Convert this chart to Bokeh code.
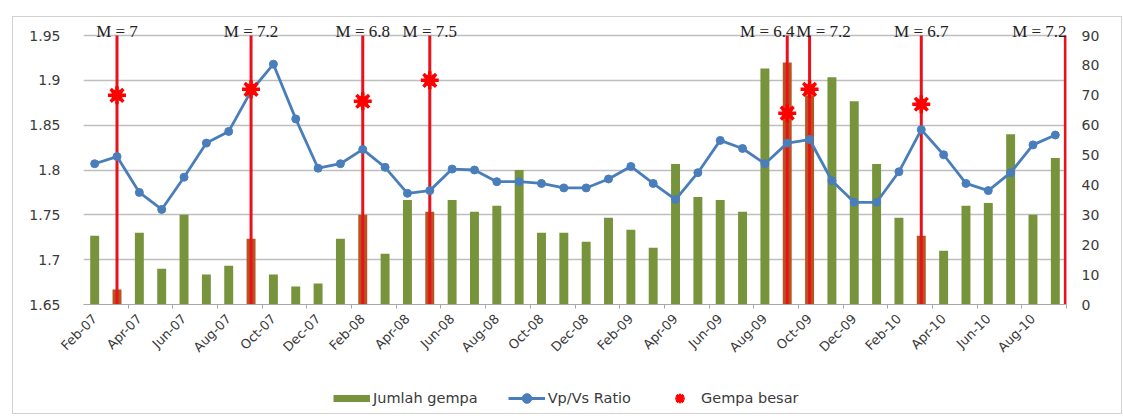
import math
from bokeh.plotting import figure
from bokeh.layouts import column
from bokeh.models import (Range1d, LinearAxis, FixedTicker, ColumnDataSource,
                          Legend, LegendItem, NumeralTickFormatter)
from bokeh.core.properties import value
from bokeh.embed import file_html
from bokeh.resources import INLINE

months = ["Feb-07", "Mar-07", "Apr-07", "May-07", "Jun-07", "Jul-07", "Aug-07", "Sep-07", "Oct-07", "Nov-07", "Dec-07",
          "Jan-08", "Feb-08", "Mar-08", "Apr-08", "May-08", "Jun-08", "Jul-08", "Aug-08", "Sep-08", "Oct-08", "Nov-08", "Dec-08",
          "Jan-09", "Feb-09", "Mar-09", "Apr-09", "May-09", "Jun-09", "Jul-09", "Aug-09", "Sep-09", "Oct-09", "Nov-09", "Dec-09",
          "Jan-10", "Feb-10", "Mar-10", "Apr-10", "May-10", "Jun-10", "Jul-10", "Aug-10", "Sep-10"]

vpvs = [1.807, 1.815, 1.775, 1.756, 1.792, 1.830, 1.843, 1.888, 1.918, 1.857, 1.802,
        1.807, 1.823, 1.803, 1.774, 1.777, 1.801, 1.800, 1.787, 1.787, 1.785, 1.780, 1.780,
        1.790, 1.804, 1.785, 1.767, 1.797, 1.833, 1.824, 1.807, 1.830, 1.834, 1.788, 1.764,
        1.764, 1.798, 1.845, 1.817, 1.785, 1.777, 1.797, 1.828, 1.839]

gempa = [23, 5, 24, 12, 30, 10, 13, 22, 10, 6, 7,
         22, 30, 17, 35, 31, 35, 31, 33, 45, 24, 24, 21,
         29, 25, 19, 47, 36, 35, 31, 79, 81, 70, 76, 68,
         47, 29, 23, 18, 33, 34, 57, 30, 49]

# large earthquakes (position in month index; last one sits at the right edge)
event_pos = [1, 7, 12, 15, 31, 32, 37, 43.45]
event_mag = ["M = 7", "M = 7.2", "M = 6.8", "M = 7.5", "M = 6.4", "M = 7.2", "M = 6.7", "M = 7.2"]
event_star = [70, 72, 68, 75, 64, 72, 67, float("nan")]

# ---- layout / style ----
label_shift = [0, 0, 0, 0, -20, 14, 0, -26]
GREEN = "#77933C"
ORANGE = "#B8541F"
BLUE = "#4A7EBB"
RED = "#E8121B"
TXT = "#3A3A3A"
FONT = "DejaVu Sans"

W = 1108
H_MAIN, H_LEG = 366, 30
FRAME_L, FRAME_R, FRAME_T, FRAME_B = 70, 55, 0, 79
TOP_BAND = 18                   # pixels above the 1.95 line, inside the frame
frame_h = H_MAIN - FRAME_T - FRAME_B
axis_px = frame_h - TOP_BAND     # pixels between 1.65 and 1.95
y_lo, y_hi = 1.65, 1.95
y_top = y_lo + (y_hi - y_lo) * frame_h / axis_px
n_top = 90 * frame_h / axis_px

x = list(range(len(months)))
event_idx = {int(e) for e in event_pos if float(e).is_integer()}
bar_colors = [ORANGE if i in event_idx else GREEN for i in x]

src = ColumnDataSource(dict(x=x, vpvs=vpvs, gempa=gempa, color=bar_colors))
ev = ColumnDataSource(dict(x=event_pos, mag=event_mag, star=event_star, shift=label_shift))

p = figure(width=W, height=H_MAIN, x_range=Range1d(-0.5, len(months) - 0.5),
           y_range=Range1d(y_lo, y_top), output_backend="svg", toolbar_location=None,
           min_border_left=FRAME_L, min_border_right=FRAME_R, min_border_top=FRAME_T,
           min_border_bottom=FRAME_B)
p.extra_y_ranges = {"n": Range1d(0, n_top)}
p.outline_line_color = None
p.background_fill_color = "white"

# grid
p.xgrid.grid_line_color = None
p.ygrid.grid_line_color = "#BEBEBE"
p.ygrid.grid_line_width = 1.3

# left axis
la = p.yaxis[0]
la.ticker = FixedTicker(ticks=[1.65, 1.70, 1.75, 1.80, 1.85, 1.90, 1.95])
la.formatter = NumeralTickFormatter(format="0.[00]")
la.axis_line_color = None
la.major_tick_line_color = None
la.minor_tick_line_color = None
la.major_label_standoff = 17
la.major_label_text_font = FONT
la.major_label_text_font_size = "14px"
la.major_label_text_color = TXT

# right axis
ra = LinearAxis(y_range_name="n", ticker=FixedTicker(ticks=list(range(0, 91, 10))))
ra.axis_line_color = None
ra.major_tick_line_color = None
ra.minor_tick_line_color = None
ra.major_label_standoff = 9
ra.major_label_text_font = FONT
ra.major_label_text_font_size = "14px"
ra.major_label_text_color = TXT
p.add_layout(ra, "right")

# bottom axis
xa = p.xaxis[0]
xa.ticker = FixedTicker(ticks=list(range(0, len(months), 2)),
                        minor_ticks=[i + 1.5 for i in range(0, len(months) - 1, 2)])
xa.major_label_overrides = {i: months[i] for i in range(0, len(months), 2)}
xa.major_label_orientation = math.pi / 4
xa.axis_line_color = "#A8A8A8"
xa.major_tick_line_color = None
xa.minor_tick_line_color = "#A8A8A8"
xa.minor_tick_out = 4
xa.minor_tick_in = 0
xa.major_label_standoff = 6
xa.major_label_text_font = FONT
xa.major_label_text_font_size = "13px"
xa.major_label_text_color = TXT

# bars
p.vbar(x="x", top="gempa", width=0.4, y_range_name="n", source=src,
       fill_color="color", line_color=None)
# red event lines
p.segment(x0="x", y0=y_lo, x1="x", y1=y_hi, source=ev, line_color=RED, line_width=3)
# Vp/Vs ratio
p.line("x", "vpvs", source=src, line_color=BLUE, line_width=2.8)
p.scatter("x", "vpvs", source=src, size=8, fill_color=BLUE, line_color=BLUE)
# large-earthquake stars
p.scatter("x", "star", source=ev, y_range_name="n", marker="asterisk",
          size=18, line_color="#FF0000", line_width=3.5)
p.scatter("x", "star", source=ev, y_range_name="n", marker="x",
          size=12, line_color="#FF0000", line_width=4.5)

# magnitude labels above each line
p.text(x="x", y=y_hi, text="mag", source=ev, x_offset="shift", y_offset=-4,
       text_align="center", text_baseline="alphabetic",
       text_font=value("Liberation Serif"), text_font_size="17px", text_color="#222222")

# legend strip below (same data, view placed away from it so only the legend shows)
lf = figure(width=W, height=H_LEG, x_range=Range1d(-1000, -999), y_range=Range1d(-1000, -999),
            output_backend="svg", toolbar_location=None, min_border=0)
lf.extra_y_ranges = {"n": Range1d(-1000, -999)}
lf.axis.visible = False
lf.grid.visible = False
lf.outline_line_color = None
sw = lf.line("x", "gempa", source=src, y_range_name="n", line_color=GREEN, line_width=7)
ln = lf.line("x", "vpvs", source=src, line_color=BLUE, line_width=2.8)
dt = lf.scatter("x", "vpvs", source=src, fill_color=BLUE, line_color=BLUE)
st = lf.scatter("x", "star", source=ev, y_range_name="n", marker="asterisk",
                line_color="#FF0000", line_width=2.5)
st2 = lf.scatter("x", "star", source=ev, y_range_name="n", marker="x",
                 line_color="#FF0000", line_width=3)
legend = Legend(items=[LegendItem(label="Jumlah gempa", renderers=[sw]),
                       LegendItem(label="Vp/Vs Ratio", renderers=[ln, dt]),
                       LegendItem(label="Gempa besar", renderers=[st, st2])],
                orientation="horizontal", location=(250, 3),
                glyph_width=37, glyph_height=24, label_height=20, spacing=30, label_standoff=3,
                padding=0, margin=0,
                label_text_font=FONT, label_text_font_size="14.5px", label_text_color=TXT,
                border_line_color=None, background_fill_alpha=0)
lf.add_layout(legend)

layout = column(p, lf, spacing=0)
layout.styles = {"transform": "translate(12px, 16px)", "border": "1px solid #D2D2D2"}

open("out.html", "w").write(file_html(layout, INLINE))
